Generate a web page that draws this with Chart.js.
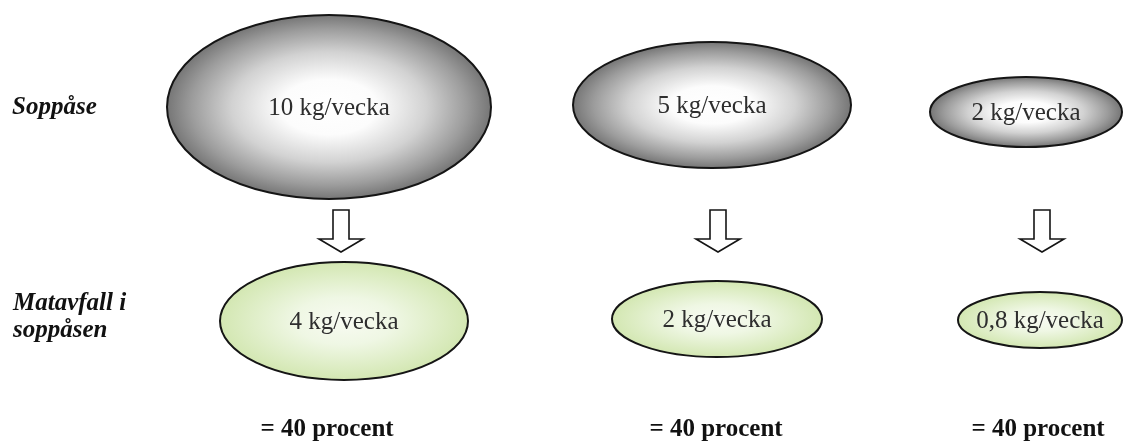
<!DOCTYPE html>
<html>
<head>
<meta charset="utf-8">
<script src="https://cdn.jsdelivr.net/npm/chart.js@4.4.1/dist/chart.umd.min.js"></script>
<style>
  html, body { margin: 0; padding: 0; background: #fff; }
</style>
</head>
<body>
<canvas id="diagram" width="1125" height="443"></canvas>
<script>
// Row labels (left side)
const rowLabels = [['Soppåse'], ['Matavfall i', 'soppåsen']];

// Weight of the bag, kg per week
const bagKg = [10, 5, 2];
// Food waste in the bag, kg per week
const foodKg = [4, 2, 0.8];
// Share of food waste in percent
const sharePct = [40, 40, 40];

const unit = 'kg/vecka';

// Layout (scale units = pixels, chart area covers the whole canvas)
const bagX = [329, 712, 1026];
const bagY = [107, 105, 112];
const bagSize = [[162, 92], [139, 63], [96, 35]];
const foodX = [344, 717, 1040];
const foodY = [321, 319, 320];
const foodSize = [[124, 59], [105, 38], [82, 28]];
const arrowX = [341, 718, 1042];
const arrowTop = 210;
const pctX = [327, 716, 1038];
const pctY = 430;

const serif = '"Liberation Serif", "Times New Roman", serif';

function fmt(v) {
  return String(v).replace('.', ',');
}

function drawEllipse(ctx, x, y, rx, ry, stops) {
  ctx.save();
  ctx.translate(x, y);
  ctx.scale(1, ry / rx);
  const g = ctx.createRadialGradient(0, 0, 0, 0, 0, rx);
  stops.forEach(s => g.addColorStop(s[0], s[1]));
  ctx.fillStyle = g;
  ctx.beginPath();
  ctx.arc(0, 0, rx, 0, Math.PI * 2);
  ctx.fill();
  ctx.restore();
  ctx.beginPath();
  ctx.ellipse(x, y, rx, ry, 0, 0, Math.PI * 2);
  ctx.lineWidth = 2;
  ctx.strokeStyle = '#151515';
  ctx.stroke();
}

function drawArrow(ctx, x, top) {
  const sw = 8, hw = 22, shoulder = 29, tip = 42;
  ctx.beginPath();
  ctx.moveTo(x - sw, top);
  ctx.lineTo(x + sw, top);
  ctx.lineTo(x + sw, top + shoulder);
  ctx.lineTo(x + hw, top + shoulder);
  ctx.lineTo(x, top + tip);
  ctx.lineTo(x - hw, top + shoulder);
  ctx.lineTo(x - sw, top + shoulder);
  ctx.closePath();
  ctx.fillStyle = '#fff';
  ctx.fill();
  ctx.lineWidth = 1.6;
  ctx.strokeStyle = '#151515';
  ctx.stroke();
}

const grayStops = [[0, '#ffffff'], [0.3, '#fcfcfc'], [0.6, '#d2d2d2'], [0.85, '#9c9c9c'], [1, '#767676']];
const greenStops = [[0, '#f8fbf2'], [0.4, '#eff7e4'], [1, '#d3e7b2']];

// Draws ellipses, arrows and texts at the points placed by the scales
const diagramPlugin = {
  id: 'diagram',
  afterDatasetsDraw(chart) {
    const ctx = chart.ctx;
    chart.data.datasets.forEach((ds, di) => {
      const meta = chart.getDatasetMeta(di);
      meta.data.forEach((pt, i) => {
        ctx.save();
        if (ds.kind === 'bag' || ds.kind === 'food') {
          const size = ds.kind === 'bag' ? bagSize[i] : foodSize[i];
          drawEllipse(ctx, pt.x, pt.y, size[0], size[1], ds.kind === 'bag' ? grayStops : greenStops);
          ctx.fillStyle = '#2e2e2e';
          ctx.font = '25px ' + serif;
          ctx.textAlign = 'center';
          ctx.textBaseline = 'middle';
          ctx.fillText(fmt(ds.values[i]) + ' ' + unit, pt.x, pt.y + 1);
        } else if (ds.kind === 'arrow') {
          drawArrow(ctx, pt.x, pt.y);
        } else if (ds.kind === 'pct') {
          ctx.fillStyle = '#111';
          ctx.font = 'bold 25px ' + serif;
          ctx.textAlign = 'center';
          ctx.textBaseline = 'middle';
          ctx.fillText('= ' + ds.values[i] + ' procent', pt.x, pt.y);
        }
        ctx.restore();
      });
    });
    // row labels
    ctx.save();
    ctx.fillStyle = '#111';
    ctx.font = 'italic bold 25px ' + serif;
    ctx.textAlign = 'left';
    ctx.textBaseline = 'middle';
    const ys = chart.scales.y;
    rowLabels[0].forEach((t, k) => ctx.fillText(t, 12, ys.getPixelForValue(108 + k * 27)));
    rowLabels[1].forEach((t, k) => ctx.fillText(t, 13, ys.getPixelForValue(304 + k * 27)));
    ctx.restore();
  }
};

function points(xs, ys) {
  return xs.map((x, i) => ({ x: x, y: Array.isArray(ys) ? ys[i] : ys }));
}

new Chart(document.getElementById('diagram'), {
  type: 'scatter',
  data: {
    datasets: [
      { label: 'Soppåse', kind: 'bag', values: bagKg, data: points(bagX, bagY), pointRadius: 0 },
      { label: 'Pil', kind: 'arrow', values: bagKg, data: points(arrowX, arrowTop), pointRadius: 0 },
      { label: 'Matavfall i soppåsen', kind: 'food', values: foodKg, data: points(foodX, foodY), pointRadius: 0 },
      { label: 'Andel', kind: 'pct', values: sharePct, data: points(pctX, pctY), pointRadius: 0 }
    ]
  },
  options: {
    responsive: false,
    animation: false,
    devicePixelRatio: 1,
    layout: { padding: 0 },
    scales: {
      x: { type: 'linear', min: 0, max: 1125, display: false },
      y: { type: 'linear', min: 0, max: 443, reverse: true, display: false }
    },
    plugins: {
      legend: { display: false },
      tooltip: { enabled: false }
    }
  },
  plugins: [diagramPlugin]
});
</script>
</body>
</html>
